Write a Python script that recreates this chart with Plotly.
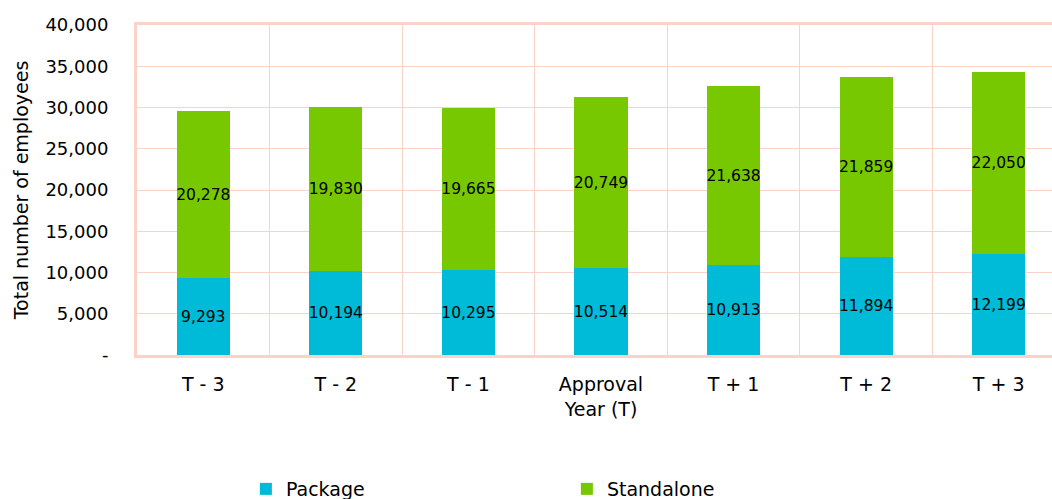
import plotly.graph_objects as go

# Categories and series values
categories = ["T - 3", "T - 2", "T - 1", "Approval<br>Year (T)", "T + 1", "T + 2", "T + 3"]
package = [9293, 10194, 10295, 10514, 10913, 11894, 12199]
standalone = [20278, 19830, 19665, 20749, 21638, 21859, 22050]

y_tickvals = [0, 5000, 10000, 15000, 20000, 25000, 30000, 35000, 40000]
y_ticktext = ["-", "5,000", "10,000", "15,000", "20,000", "25,000", "30,000", "35,000", "40,000"]

FONT = "DejaVu Sans"
GRID = "#FAD3C6"

fig = go.Figure()
for name, vals, color in [("Package", package, "#00BBD7"), ("Standalone", standalone, "#77C800")]:
    fig.add_trace(go.Bar(
        name=name, x=categories, y=vals,
        marker=dict(color=color, line=dict(width=0)),
        width=0.4,
        texttemplate="%{y:,}", textposition="inside", insidetextanchor="middle",
        textangle=0, constraintext="none",
        textfont=dict(color="black", size=15.5, family=FONT),
    ))

fig.update_layout(
    barmode="stack",
    width=1052, height=499,
    margin=dict(l=137, r=0, t=25, b=144),
    paper_bgcolor="white", plot_bgcolor="white",
    font=dict(family=FONT, color="black", size=18),
    legend=dict(
        orientation="h", x=0.119, xanchor="left",
        yref="container", y=0.02, yanchor="middle",
        entrywidth=276, entrywidthmode="pixels",
        font=dict(size=19, family=FONT),
        itemwidth=30, traceorder="normal",
    ),
    xaxis=dict(
        type="category",
        range=[-0.5, 6.402],
        tickson="boundaries",
        showgrid=True, gridcolor=GRID, gridwidth=1,
        showline=True, linecolor=GRID, linewidth=3, mirror=True,
        ticks="", ticklabelstandoff=10,
        tickfont=dict(size=19, family=FONT),
    ),
    yaxis=dict(
        range=[0, 40000],
        tickvals=y_tickvals, ticktext=y_ticktext,
        showgrid=True, gridcolor=GRID, gridwidth=1,
        showline=True, linecolor=GRID, linewidth=3,
        zeroline=False, ticks="", ticklabelstandoff=22,
        tickfont=dict(size=18, family=FONT),
        title=dict(text="Total number of employees", font=dict(size=19, family=FONT), standoff=12),
    ),
)

fig.write_html("out.html")
